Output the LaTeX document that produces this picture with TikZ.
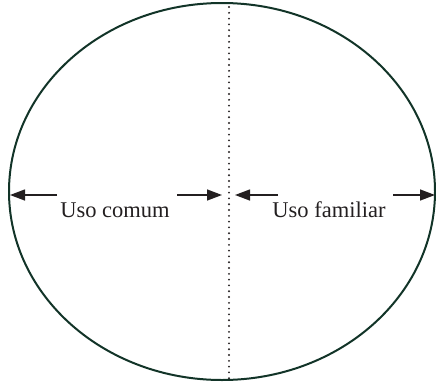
\documentclass[tikz,border=0pt]{standalone}
\usepackage{fontspec}
\setmainfont{Liberation Serif}
\usetikzlibrary{arrows.meta}
\definecolor{ellcol}{RGB}{18,52,40}
\definecolor{txtcol}{RGB}{35,31,32}
\tikzset{
  lbl/.style={inner sep=0pt, anchor=base, font=\fontsize{22.5}{24}\selectfont, text=txtcol},
  arr/.style={draw=txtcol, line width=1.4pt, -{Triangle[length=15pt,width=11pt]}},
  divider/.style={draw=txtcol, line width=2.1pt, line cap=round, dash pattern=on 0pt off 5.8pt},
  oval/.style={draw=ellcol, line width=2pt}
}
\begin{document}
\begin{tikzpicture}[x=1pt,y=-1pt]
\useasboundingbox (0,0) rectangle (436,386);
\draw[oval] (222,191.5) ellipse [x radius=213, y radius=188.5];
\coordinate (dtop) at (229,7);
\coordinate (dbot) at (229,379);
\draw[divider] (dtop) -- (dbot);
\node[lbl] (comum) at (115,217) {Uso comum};
\node[lbl] (familiar) at (329,217) {Uso familiar};
\coordinate (a1s) at (57,195);
\coordinate (a1e) at (10,195);
\coordinate (a2s) at (177,195);
\coordinate (a2e) at (222,195);
\coordinate (a3s) at (278,195);
\coordinate (a3e) at (235,195);
\coordinate (a4s) at (393,195);
\coordinate (a4e) at (435,195);
\draw[arr] (a1s) -- (a1e);
\draw[arr] (a2s) -- (a2e);
\draw[arr] (a3s) -- (a3e);
\draw[arr] (a4s) -- (a4e);
\end{tikzpicture}
\end{document}
